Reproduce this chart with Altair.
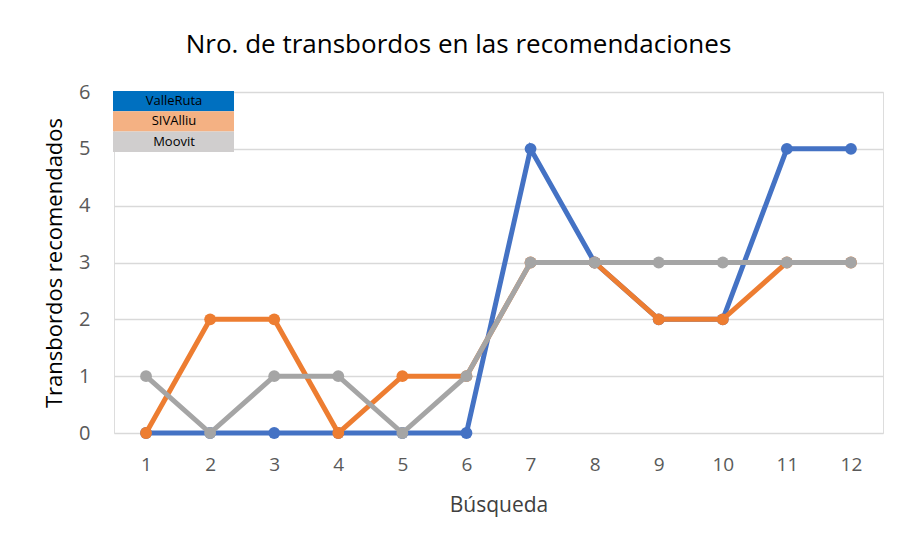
import altair as alt
import pandas as pd

busqueda = list(range(1, 13))
series_names = ["ValleRuta", "SIVAlliu", "Moovit"]
valleruta = [0, 0, 0, 0, 0, 0, 5, 3, 2, 2, 5, 5]
sivalliu = [0, 2, 2, 0, 1, 1, 3, 3, 2, 2, 3, 3]
moovit = [1, 0, 1, 1, 0, 1, 3, 3, 3, 3, 3, 3]
line_colors = ["#4472C4", "#ED7D31", "#A5A5A5"]
legend_colors = ["#0070C0", "#F4B183", "#D0CECE"]
y_ticks = [0, 1, 2, 3, 4, 5, 6]

FONT = "Open Sans"
W, H = 769, 341

x_enc = alt.X("Búsqueda:O", title="Búsqueda",
              axis=alt.Axis(labelAngle=0, labelFontSize=19, labelColor="#595959",
                            titleFontSize=21, titleColor="#404040", titleFontWeight="normal",
                            titlePadding=20, labelPadding=22, ticks=False, domain=False,
                            grid=False, labelFont=FONT, titleFont=FONT))
y_enc = alt.Y("valor:Q", title="Transbordos recomendados",
              scale=alt.Scale(domain=[0, 6], nice=False),
              axis=alt.Axis(values=y_ticks, format="d", labelFontSize=20, labelColor="#595959",
                            titleFontSize=22, titleColor="#000000", titleFontWeight="normal",
                            titlePadding=12, labelPadding=24, ticks=False, domain=False,
                            gridColor="#D9D9D9", gridWidth=1.5, labelFont=FONT, titleFont=FONT))
color_scale = alt.Scale(domain=series_names, range=line_colors)

layers = []
for name, vals in zip(series_names, [valleruta, sivalliu, moovit]):
    df = pd.DataFrame({"Búsqueda": busqueda, "valor": vals, "serie": name})
    base = alt.Chart(df).encode(
        x=x_enc, y=y_enc,
        color=alt.Color("serie:N", scale=color_scale, legend=None))
    layers.append(base.mark_line(strokeWidth=5))
    layers.append(base.mark_circle(size=140, opacity=1))

# legend box (table-like overlay, top-left inside the plot), rows in y units
leg = pd.DataFrame({"serie": series_names, "row": [0, 1, 2]})
row_u = 20.3 / (H / 6.0)
top_u = 6 + 1 / (H / 6.0)
leg_base = alt.Chart(leg).transform_calculate(
    y0=f"{top_u} - datum.row * {row_u}",
    y1=f"{top_u} - (datum.row + 1) * {row_u}",
    ym=f"{top_u} - (datum.row + 0.5) * {row_u}",
)
leg_rect = leg_base.mark_rect().encode(
    x=alt.value(-1), x2=alt.value(120),
    y=alt.Y("y0:Q"), y2="y1:Q",
    fill=alt.Fill("serie:N", scale=alt.Scale(domain=series_names, range=legend_colors), legend=None),
)
leg_text = leg_base.mark_text(fontSize=13, font=FONT, color="#000000").encode(
    x=alt.value(60),
    y=alt.Y("ym:Q"),
    text="serie:N",
)

chart = alt.layer(*layers, leg_rect, leg_text).properties(
    width=W, height=H,
    title=alt.TitleParams("Nro. de transbordos en las recomendaciones", fontSize=26,
                          font=FONT, fontWeight="normal", color="#000000", anchor="middle",
                          offset=24, dx=-40),
    padding={"left": 106, "top": 84, "right": 9, "bottom": 100},
    autosize=alt.AutoSizeParams(type="none"),
).configure_view(
    strokeWidth=0, strokeOpacity=0
).configure_axisX(grid=False, domain=False).configure_axis(domain=False).configure(background="white")

chart.save("out.html", embed_options={"renderer": "svg", "actions": False})
